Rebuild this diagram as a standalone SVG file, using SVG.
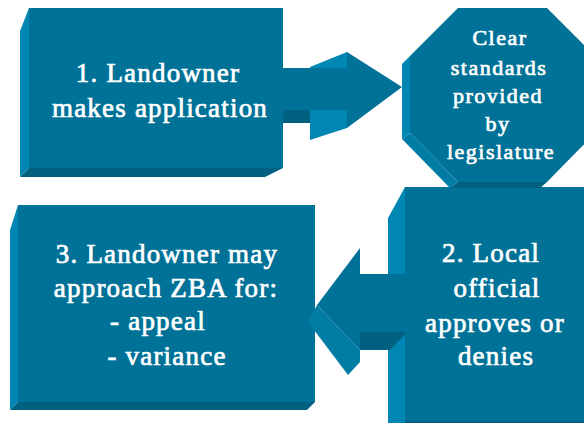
<svg xmlns="http://www.w3.org/2000/svg" width="584" height="423" viewBox="0 0 584 423">
<style>
.front{fill:#007298}
.light{fill:#0086B2}
.dark{fill:#00607F}
.mid{fill:#007CA5}
text{font-family:"Liberation Serif","Times New Roman",serif;font-weight:normal;fill:#FFFFFF;text-anchor:middle;stroke:#FFFFFF;stroke-width:0.7px}
.big{font-size:27px;letter-spacing:1.2px}
.small{font-size:22px;letter-spacing:1.5px}
</style>
<rect width="584" height="423" fill="#FFFFFF"/>
<g id="box1">
<polygon class="light" points="29,8 20,31 20,177 29,168"/>
<polygon class="dark" points="20,177 29,168 283,168 265,177"/>
<rect class="front" x="29" y="8" width="254" height="160"/>
<text class="big" x="158" y="82">1. Landowner</text>
<text class="big" x="160" y="117">makes application</text>
</g>
<g id="box2">
<polygon class="light" points="405,187 388,218 388,423 405,423"/>
<rect class="front" x="405" y="187" width="179" height="236"/>
<rect class="dark" x="405" y="421" width="179" height="2"/>
<text class="big" x="491" y="262">2. Local</text>
<text class="big" x="497" y="297">official</text>
<text class="big" x="495" y="332">approves or</text>
<text class="big" x="496" y="365">denies</text>
</g>
<g id="octagon">
<polygon class="light" points="410,56 402,64 402,139 410,133"/>
<polygon class="mid" points="402,139 410,133 458,182 450,188"/>
<polygon class="dark" points="450,188 458,182 547,182 540,188"/>
<polygon class="front" points="458,8 547,8 595,56 595,133 547,182 458,182 410,133 410,56"/>
<text class="small" x="500" y="45">Clear</text>
<text class="small" x="499" y="75">standards</text>
<text class="small" x="498" y="103">provided</text>
<text class="small" x="498" y="131">by</text>
<text class="small" x="501" y="159">legislature</text>
</g>
<g id="box3">
<polygon class="light" points="18,205 10,230 10,410 18,402"/>
<polygon class="dark" points="10,410 18,402 315,402 307,410"/>
<rect class="front" x="18" y="205" width="297" height="197"/>
<text class="big" x="167" y="263">3. Landowner may</text>
<text class="big" x="166" y="297">approach ZBA for:</text>
<text class="big" x="158" y="330">- appeal</text>
<text class="big" x="167" y="365">- variance</text>
</g>
<g id="connectors">
<g id="arrow1">
<rect class="dark" x="283" y="110" width="27" height="13"/>
<polygon class="light" points="310,67 347,52 347,68 310,68"/>
<polygon class="light" points="310,110 347,110 347,128 310,140"/>
<rect class="front" x="283" y="68" width="65" height="42"/>
<polygon class="front" points="347,52 402,87 347,128"/>
</g>
<g id="arrow2">
<polygon class="dark" points="360,332 407,332 390,350 360,350"/>
<polygon class="mid" points="317,305 308,322 348,375 360,362 360,350"/>
<rect class="front" x="359" y="274" width="48" height="58"/>
<polygon class="front" points="360,248 317,305 360,350"/>
</g>
</g>
</svg>
